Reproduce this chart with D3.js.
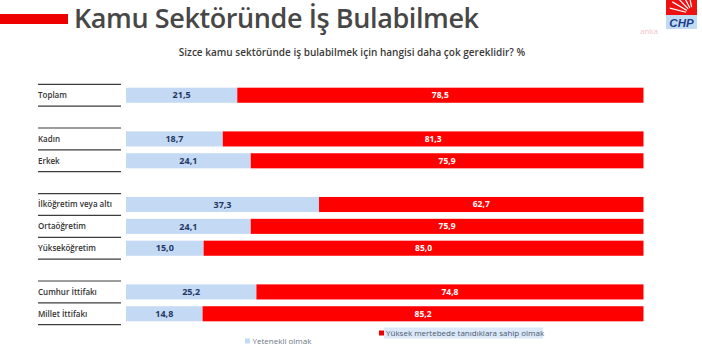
<!DOCTYPE html>
<html>
<head>
<meta charset="utf-8">
<script src="https://cdn.jsdelivr.net/npm/d3@7"></script>
<style>
  html, body { margin: 0; padding: 0; background: #ffffff; }
  svg { display: block; }
</style>
</head>
<body>
<svg id="chart" width="702" height="351"></svg>
<script>
const categories = ["Toplam", "Kadın", "Erkek", "İlköğretim veya altı", "Ortaöğretim", "Yükseköğretim", "Cumhur İttifakı", "Millet İttifakı"];
const groups = [0, 1, 1, 2, 2, 2, 3, 3];
const yetenekli = [21.5, 18.7, 24.1, 37.3, 24.1, 15.0, 25.2, 14.8];
const tanidik = [78.5, 81.3, 75.9, 62.7, 75.9, 85.0, 74.8, 85.2];
const seriesNames = ["Yetenekli olmak", "Yüksek mertebede tanıdıklara sahip olmak"];
const titleText = "Kamu Sektöründe İş Bulabilmek";
const subtitleText = "Sizce kamu sektöründe iş bulabilmek için hangisi daha çok gereklidir? %";

const svg = d3.select("#chart");
const FONT = "'Open Sans', 'Noto Sans', sans-serif";
const fmt = v => d3.format(".1f")(v).replace(".", ",");

const rows = categories.map((c, i) => ({
  name: c, group: groups[i], slot: i + groups[i], a: yetenekli[i], b: tanidik[i]
}));
const nSlots = d3.max(rows, d => d.slot) + 1;

const x = d3.scaleLinear().domain([0, 100]).range([126, 643.5]);
const y = d3.scaleBand().domain(d3.range(nSlots)).range([84.3, 324.7]).paddingInner(0.31).paddingOuter(0.155);
const slot = d3.scaleBand().domain(d3.range(nSlots)).range([84.3, 324.7]).padding(0);

// Title bar + title
svg.append("rect").attr("x", 0).attr("y", 14).attr("width", 68).attr("height", 10).attr("fill", "#ee0000");
svg.append("text").attr("x", 74).attr("y", 27.5)
  .attr("font-family", FONT).attr("font-weight", 600).attr("font-size", 27)
  .attr("textLength", 405).attr("lengthAdjust", "spacing")
  .attr("fill", "#474747").text(titleText);

// Subtitle
const sub = svg.append("text").attr("x", 352).attr("y", 55.5).attr("text-anchor", "middle")
  .attr("font-family", FONT).attr("font-weight", 600).attr("font-size", 9.5)
  .attr("fill", "#3a3a3a").text(subtitleText);
(function fit(sel, target) {
  const w = sel.node().getComputedTextLength();
  sel.attr("font-size", 9.5 * target / w);
})(sub, 347);

// Logo
const defs = svg.append("defs");
defs.append("clipPath").attr("id", "logoclip")
  .append("rect").attr("x", 666).attr("y", 0).attr("width", 31).attr("height", 15);
const logo = svg.append("g");
logo.append("rect").attr("x", 666).attr("y", 0).attr("width", 31).attr("height", 15).attr("fill", "#ee1111");
const rays = logo.append("g").attr("clip-path", "url(#logoclip)");
d3.range(5).forEach(i => {
  const cx = 693, cy = 14;
  const ang = Math.PI + 0.25 + i * 0.28;
  rays.append("line")
    .attr("x1", cx + Math.cos(ang) * 7).attr("y1", cy + Math.sin(ang) * 7)
    .attr("x2", cx + Math.cos(ang) * 24).attr("y2", cy + Math.sin(ang) * 24)
    .attr("stroke", "#ffffff").attr("stroke-width", 1.2);
});
logo.append("rect").attr("x", 666).attr("y", 15).attr("width", 31).attr("height", 14).attr("fill", "#bfdcf3");
logo.append("text").attr("x", 681.5).attr("y", 26.5).attr("text-anchor", "middle")
  .attr("font-family", "'Liberation Sans', Arial, sans-serif").attr("font-weight", 700)
  .attr("font-style", "italic").attr("font-size", 11.5).attr("fill", "#1d3c8c").text("CHP");
svg.append("text").attr("x", 649).attr("y", 34).attr("text-anchor", "middle")
  .attr("font-family", FONT).attr("font-size", 8).attr("fill", "#f3c3cb").text("anka");

// Separator lines
const sepYs = [];
d3.groups(rows, d => d.group).forEach(([g, rs]) => {
  sepYs.push(slot(rs[0].slot));
  rs.forEach(r => sepYs.push(slot(r.slot) + slot.bandwidth()));
});
svg.append("g").selectAll("line").data(sepYs).join("line")
  .attr("x1", 38).attr("x2", 121).attr("y1", d => d).attr("y2", d => d)
  .attr("stroke", "#3c3c3c").attr("stroke-width", 1.2);

// Category labels
svg.append("g").selectAll("text").data(rows).join("text")
  .attr("x", 38).attr("y", d => y(d.slot) + y.bandwidth() / 2)
  .attr("dy", "0.35em")
  .attr("font-family", FONT).attr("font-weight", 600).attr("font-size", 8)
  .attr("fill", "#333333").text(d => d.name);

// Bars
const bars = svg.append("g");
bars.selectAll("rect.a").data(rows).join("rect").attr("class", "a")
  .attr("x", x(0)).attr("y", d => y(d.slot))
  .attr("width", d => x(d.a) - x(0)).attr("height", y.bandwidth())
  .attr("fill", "#c4d9f4");
bars.selectAll("rect.b").data(rows).join("rect").attr("class", "b")
  .attr("x", d => x(d.a)).attr("y", d => y(d.slot))
  .attr("width", d => x(d.a + d.b) - x(d.a)).attr("height", y.bandwidth())
  .attr("fill", "#ff0000");

// Value labels
bars.selectAll("text.a").data(rows).join("text").attr("class", "a")
  .attr("x", d => (x(0) + x(d.a)) / 2).attr("y", d => y(d.slot) + y.bandwidth() / 2)
  .attr("dy", "0.35em").attr("text-anchor", "middle")
  .attr("font-family", FONT).attr("font-weight", 700).attr("font-size", 9)
  .attr("fill", "#1f3864").text(d => fmt(d.a));
bars.selectAll("text.b").data(rows).join("text").attr("class", "b")
  .attr("x", d => (x(d.a) + x(d.a + d.b)) / 2).attr("y", d => y(d.slot) + y.bandwidth() / 2)
  .attr("dy", "0.35em").attr("text-anchor", "middle")
  .attr("font-family", FONT).attr("font-weight", 700).attr("font-size", 8.5)
  .attr("fill", "#ffffff").text(d => fmt(d.b));

// Legend
const leg = svg.append("g");
leg.append("rect").attr("x", 245).attr("y", 338.5).attr("width", 5).attr("height", 5).attr("fill", "#c4d9f4");
leg.append("text").attr("x", 252.5).attr("y", 341).attr("dy", "0.35em")
  .attr("font-family", FONT).attr("font-size", 8).attr("fill", "#6a7888").text(seriesNames[0]);
leg.append("rect").attr("x", 384).attr("y", 327.5).attr("width", 159).attr("height", 11).attr("fill", "#dbe8f8");
leg.append("rect").attr("x", 379).attr("y", 330.5).attr("width", 5).attr("height", 5).attr("fill", "#ee0000");
leg.append("text").attr("x", 386).attr("y", 333).attr("dy", "0.35em")
  .attr("font-family", FONT).attr("font-size", 8).attr("fill", "#4a5a70").text(seriesNames[1]);
</script>
</body>
</html>
